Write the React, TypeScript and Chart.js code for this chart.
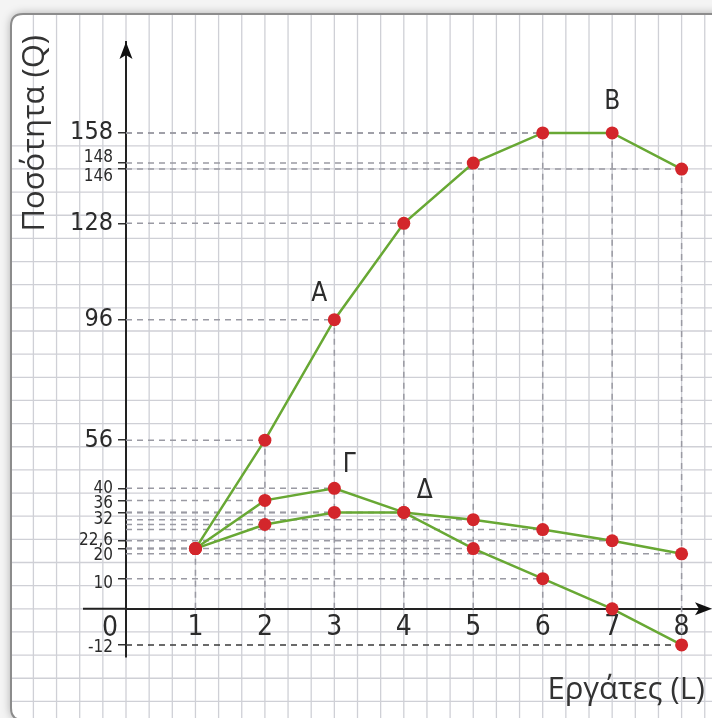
import { useEffect, useRef } from 'react';
import { Chart, registerables } from 'chart.js';

Chart.register(...registerables);

// ---------- data ----------
const workers = [1, 2, 3, 4, 5, 6, 7, 8];
const totalProduct = [20, 56, 96, 128, 148, 158, 158, 146];
const marginalProduct = [20, 36, 40, 32, 20, 10, 0, -12];
const averageProduct = [20, 28, 32, 32, 29.6, 26.3, 22.6, 18.25];

const yTickValues = [158, 148, 146, 128, 96, 56, 40, 36, 32, 22.6, 20, 10, -12];
const yTickLabels = ['158', '148', '146', '128', '96', '56', '40', '36', '32', '22,6', '20', '10', '-12'];
const xTickValues = [1, 2, 3, 4, 5, 6, 7, 8];
const originLabel = '0';
const xTitle = 'Εργάτες (L)';
const yTitle = 'Ποσότητα (Q)';
const pointNames = ['A', 'B', 'Γ', 'Δ'];
const pointNameSeries = [0, 0, 1, 2];
const pointNameIndex = [2, 6, 2, 3];

// ---------- styles ----------
const FONT = "'DejaVu Sans Condensed', 'DejaVu Sans', sans-serif";
const TITLE_FONT = "'Open Sans', 'DejaVu Sans', sans-serif";
const GREEN = '#68a834';
const RED = '#d3262b';
const GUIDE = '#9a9aa3';
const TEXT = '#2b2b2b';
const bigTicks = [158, 128, 96, 56];
const labelShift: Record<string, number> = { '148': -5, '146': 7, '36': 3, '32': 7, '20': 7, '10': 5, '-12': 3 };
const nameOffsets = [[-15, -25], [0, -31], [15, -23], [21, -21]];

const series = [totalProduct, marginalProduct, averageProduct];

function buildDatasets() {
  const ds: any[] = [];
  // horizontal guides
  series.forEach((s) =>
    s.forEach((v, i) => {
      if (v === 0) return;
      ds.push({
        data: [{ x: 0, y: v }, { x: workers[i], y: v }],
        borderColor: v < 0 ? '#3a3a3a' : GUIDE,
        borderWidth: 1.5,
        borderDash: [6, 5],
        pointRadius: 0,
        order: 3,
      });
    })
  );
  // vertical guides
  workers.forEach((L, i) => {
    const vals = series.map((s) => s[i]);
    const top = Math.max(...vals);
    const bot = Math.min(0, ...vals);
    ds.push({
      data: [{ x: L, y: bot }, { x: L, y: top }],
      borderColor: GUIDE,
      borderWidth: 1.5,
      borderDash: [6, 5],
      pointRadius: 0,
      order: 3,
    });
  });
  // lines
  series.forEach((s) => {
    ds.push({
      data: workers.map((L, i) => ({ x: L, y: s[i] })),
      borderColor: GREEN,
      borderWidth: 2.5,
      pointRadius: 0,
      order: 2,
    });
  });
  // points
  series.forEach((s) => {
    ds.push({
      data: workers.map((L, i) => ({ x: L, y: s[i] })),
      showLine: false,
      pointRadius: 6.5,
      pointBackgroundColor: RED,
      pointBorderWidth: 0,
      order: 1,
    });
  });
  return ds;
}

const paperPlugin = {
  id: 'paper',
  beforeDraw(chart: any) {
    const { ctx, width, height } = chart;
    const xs = chart.scales.x;
    const ys = chart.scales.y;
    ctx.save();
    ctx.fillStyle = '#f4f4f4';
    ctx.fillRect(0, 0, width, height);
    const cx = 11, cy = 14, cw = width + 20, ch = height - 12, r = 12;
    const path = () => {
      ctx.beginPath();
      ctx.moveTo(cx + r, cy);
      ctx.lineTo(cx + cw - r, cy);
      ctx.quadraticCurveTo(cx + cw, cy, cx + cw, cy + r);
      ctx.lineTo(cx + cw, cy + ch - r);
      ctx.quadraticCurveTo(cx + cw, cy + ch, cx + cw - r, cy + ch);
      ctx.lineTo(cx + r, cy + ch);
      ctx.quadraticCurveTo(cx, cy + ch, cx, cy + ch - r);
      ctx.lineTo(cx, cy + r);
      ctx.quadraticCurveTo(cx, cy, cx + r, cy);
      ctx.closePath();
    };
    ctx.shadowColor = 'rgba(0,0,0,0.35)';
    ctx.shadowBlur = 10;
    path();
    ctx.fillStyle = '#ffffff';
    ctx.fill();
    ctx.shadowColor = 'transparent';
    ctx.shadowBlur = 0;
    // grid
    ctx.save();
    path();
    ctx.clip();
    const ox = xs.getPixelForValue(0);
    const oy = ys.getPixelForValue(0);
    const step = (xs.getPixelForValue(1) - xs.getPixelForValue(0)) / 3;
    ctx.strokeStyle = '#cfd0d6';
    ctx.lineWidth = 1.3;
    ctx.beginPath();
    for (let k = -20; k <= 40; k++) {
      const px = ox + k * step;
      if (px >= 0 && px <= width) {
        ctx.moveTo(px, 0);
        ctx.lineTo(px, height);
      }
      const py = oy + k * step;
      if (py >= 0 && py <= height) {
        ctx.moveTo(0, py);
        ctx.lineTo(width, py);
      }
    }
    ctx.stroke();
    ctx.restore();
    path();
    ctx.strokeStyle = '#8c8c8c';
    ctx.lineWidth = 2;
    ctx.stroke();
    ctx.restore();
  },
};

function arrow(ctx: any, tx: number, ty: number, dx: number, dy: number) {
  const len = 17, hw = 6.5, notch = 4;
  const px = -dy, py = dx;
  ctx.beginPath();
  ctx.moveTo(tx, ty);
  ctx.lineTo(tx - dx * len + px * hw, ty - dy * len + py * hw);
  ctx.lineTo(tx - dx * (len - notch), ty - dy * (len - notch));
  ctx.lineTo(tx - dx * len - px * hw, ty - dy * len - py * hw);
  ctx.closePath();
  ctx.fill();
}

const decorPlugin = {
  id: 'decor',
  afterDraw(chart: any) {
    const { ctx, chartArea, width } = chart;
    const xs = chart.scales.x;
    const ys = chart.scales.y;
    const ox = xs.getPixelForValue(0);
    const oy = ys.getPixelForValue(0);
    ctx.save();
    // x axis extensions: left of the y axis and up to the right edge
    ctx.strokeStyle = '#222';
    ctx.lineWidth = 2;
    ctx.beginPath();
    ctx.moveTo(ox - 43, oy);
    ctx.lineTo(ox, oy);
    ctx.moveTo(chartArea.right - 1, oy);
    ctx.lineTo(width - 6, oy);
    ctx.stroke();
    // arrowheads
    ctx.fillStyle = '#111';
    arrow(ctx, ox, chartArea.top, 0, -1);
    arrow(ctx, width, oy, 1, 0);
    // origin label
    ctx.fillStyle = TEXT;
    ctx.font = `28px ${FONT}`;
    ctx.textAlign = 'center';
    ctx.textBaseline = 'middle';
    ctx.fillText(originLabel, ox - 16, oy + 20);
    // point names
    ctx.font = `26px ${FONT}`;
    pointNames.forEach((name, k) => {
      const s = series[pointNameSeries[k]];
      const i = pointNameIndex[k];
      const px = xs.getPixelForValue(workers[i]);
      const py = ys.getPixelForValue(s[i]);
      ctx.fillText(name, px + nameOffsets[k][0], py + nameOffsets[k][1]);
    });
    // axis titles
    ctx.fillStyle = '#333';
    ctx.font = `31px ${TITLE_FONT}`;
    ctx.textAlign = 'right';
    ctx.fillText(xTitle, 705, 690);
    ctx.save();
    ctx.translate(35, 35);
    ctx.rotate(-Math.PI / 2);
    ctx.fillText(yTitle, 0, 0);
    ctx.restore();
    ctx.restore();
  },
};

export default function App() {
  const ref = useRef<HTMLCanvasElement>(null);
  useEffect(() => {
    if (!ref.current) return;
    const chart = new Chart(ref.current, {
      type: 'line',
      data: { datasets: buildDatasets() },
      options: {
        responsive: false,
        animation: false,
        events: [],
        layout: { padding: { left: 0, right: 0, top: 42, bottom: 61 } },
        plugins: { legend: { display: false }, tooltip: { enabled: false } },
        scales: {
          x: {
            type: 'linear',
            position: { y: 0 } as any,
            min: 0,
            max: 8.344,
            afterBuildTicks: (s: any) => {
              s.ticks = xTickValues.map((v) => ({ value: v }));
            },
            ticks: {
              autoSkip: false,
              maxRotation: 0,
              padding: 2,
              color: TEXT,
              font: { family: FONT, size: 28 },
            },
            grid: { display: false, drawTicks: false },
            border: { display: true, color: '#222', width: 2 },
          },
          y: {
            type: 'linear',
            position: 'left',
            min: -16,
            max: 188.2,
            afterFit: (s: any) => {
              s.width = 126;
              s.paddingTop = 0;
              s.paddingBottom = 0;
            },
            afterBuildTicks: (s: any) => {
              s.ticks = yTickValues.map((v) => ({ value: v }));
            },
            ticks: {
              autoSkip: false,
              padding: 5,
              color: TEXT,
              font: (c: any) => {
                const v = c.tick ? c.tick.value : 0;
                const lbl = yTickLabels[yTickValues.indexOf(v)] || '';
                const shift = labelShift[lbl] || 0;
                const size = bigTicks.includes(v) ? 25 : 17;
                return { family: FONT, size, lineHeight: shift ? `${Math.abs(shift) * 2}px` : 1.2 } as any;
              },
              callback: (v: any) => {
                const lbl = yTickLabels[yTickValues.indexOf(Number(v))] || '';
                const shift = labelShift[lbl] || 0;
                if (shift > 0) return ['', lbl];
                if (shift < 0) return [lbl, ''];
                return lbl;
              },
            },
            grid: { drawOnChartArea: false, drawTicks: true, tickLength: 8, color: '#333', lineWidth: 1.5 },
            border: { display: true, color: '#222', width: 2 },
          },
        },
      },
      plugins: [paperPlugin, decorPlugin],
    } as any);
    return () => chart.destroy();
  }, []);
  return (
    <div style={{ position: 'absolute', left: 0, top: 0, width: 712, height: 718 }}>
      <canvas ref={ref} width={712} height={718} style={{ display: 'block' }} />
    </div>
  );
}
